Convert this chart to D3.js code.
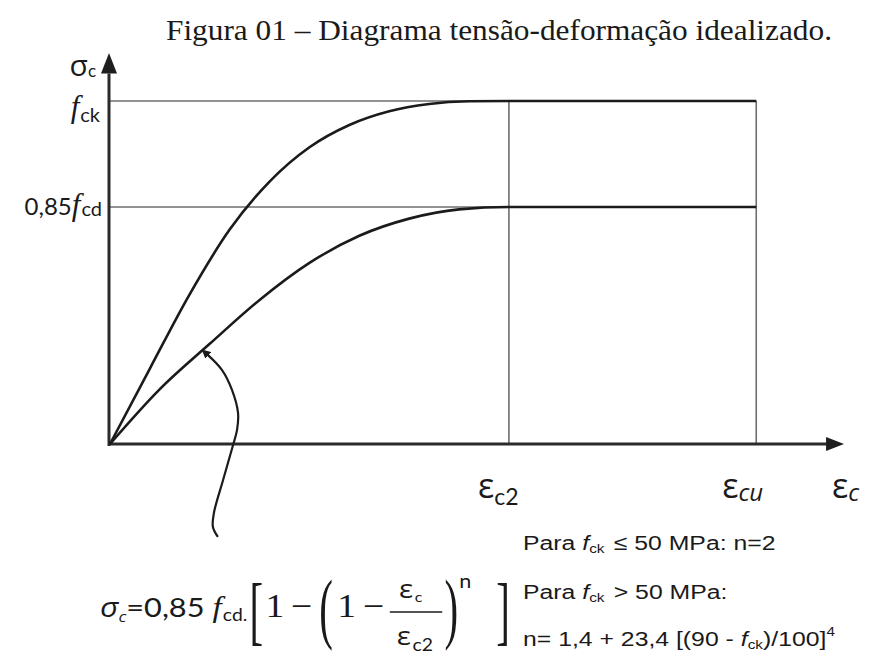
<!DOCTYPE html>
<html>
<head>
<meta charset="utf-8">
<script src="https://cdn.jsdelivr.net/npm/d3@7"></script>
<style>
  body { margin: 0; background: #fff; }
  svg text { fill: #1a1a1a; white-space: pre; }
</style>
</head>
<body>
<svg id="chart" width="869" height="657"></svg>
<script>
// Idealised stress-strain diagram of concrete (strain in ‰, stress relative to fck)
const epsC2 = 2.0;
const epsCu = 3.24;
const stressFck = 1.0;
const stressFcd = 0.691;   // 0,85 fcd level

const upperStrain = [0, 0.2, 0.4, 0.6, 0.8, 1.0, 1.2, 1.4, 1.6, 1.8, 2.0, 3.24];
const upperStress = [0, 0.220, 0.437, 0.625, 0.765, 0.865, 0.930, 0.970, 0.991, 0.999, 1.0, 1.0];

const lowerStrain = [0, 0.25, 0.5, 0.75, 1.0, 1.25, 1.5, 1.75, 2.0, 3.24];
const lowerStress = [0, 0.160, 0.292, 0.420, 0.528, 0.607, 0.657, 0.684, 0.691, 0.691];

// pointer from the formula to the lower curve
const pointerStrain = [0.486, 0.561, 0.612, 0.642, 0.637, 0.617, 0.567, 0.521, 0.516, 0.541];
const pointerStress = [0.262, 0.216, 0.157, 0.090, 0.041, -0.003, -0.105, -0.201, -0.242, -0.271];

const titleText = "Figura 01 – Diagrama tensão-deformação idealizado.";
const sansLatin = "Lato, 'Open Sans', sans-serif";
const sansGreek = "'Open Sans', 'Noto Sans', sans-serif";
const serif = "'Liberation Serif', 'Times New Roman', serif";
const arial = "'Liberation Sans', Arial, sans-serif";

const svg = d3.select("#chart");
const x = d3.scaleLinear().domain([0, 3.67]).range([110, 842]);
const y = d3.scaleLinear().domain([0, 1.134]).range([444, 55]);

// title
svg.append("text")
  .attr("x", 166).attr("y", 40)
  .attr("textLength", 666).attr("lengthAdjust", "spacingAndGlyphs")
  .style("font-family", serif).style("font-size", "30px")
  .text(titleText);

// reference lines
const guide = svg.append("g").attr("stroke", "#6e6e6e").attr("stroke-width", 1.6).attr("fill", "none");
[stressFck, stressFcd].forEach(s => {
  guide.append("line").attr("x1", x(0)).attr("x2", x(epsCu)).attr("y1", y(s)).attr("y2", y(s));
});
[epsC2, epsCu].forEach(e => {
  guide.append("line").attr("x1", x(e)).attr("x2", x(e)).attr("y1", y(0)).attr("y2", y(stressFck));
});

// axes with arrow heads
const axisG = svg.append("g");
axisG.append("line").attr("x1", x(0) - 1).attr("x2", x(0) - 1)
  .attr("y1", y(0) + 2).attr("y2", y(1.08))
  .attr("stroke", "#2b2b2b").attr("stroke-width", 3);
axisG.append("line").attr("x1", x(0) - 2).attr("x2", x(3.6))
  .attr("y1", y(0)).attr("y2", y(0))
  .attr("stroke", "#2b2b2b").attr("stroke-width", 3);
axisG.append("path")
  .attr("d", `M${x(0) - 1},${y(1.134) - 2} L${x(0) - 9},${y(1.08)} L${x(0) + 7},${y(1.08)} Z`)
  .attr("fill", "#1e1e1e");
axisG.append("path")
  .attr("d", `M${x(3.67) + 2},${y(0)} L${x(3.59)},${y(0) - 7} L${x(3.59)},${y(0) + 7} Z`)
  .attr("fill", "#1e1e1e");

// curves: smooth rise, flat plateau
const line = d3.line().x(d => x(d[0])).y(d => y(d[1])).curve(d3.curveMonotoneX);
const curveG = svg.append("g").attr("fill", "none").attr("stroke", "#1b1b1b").attr("stroke-width", 2.6);
curveG.append("path").attr("d", line(d3.zip(upperStrain, upperStress)));
curveG.append("path").attr("d", line(d3.zip(lowerStrain, lowerStress)));

// pointer arrow
svg.append("defs").append("marker")
  .attr("id", "tip").attr("viewBox", "0 0 10 10").attr("refX", 2).attr("refY", 5)
  .attr("markerWidth", 4).attr("markerHeight", 4).attr("orient", "auto-start-reverse")
  .append("path").attr("d", "M0,0 L10,5 L0,10 Z").attr("fill", "#1b1b1b");
const pointerLine = d3.line().x(d => x(d[0])).y(d => y(d[1])).curve(d3.curveCatmullRom);
svg.append("path")
  .attr("d", pointerLine(d3.zip(pointerStrain, pointerStress)))
  .attr("fill", "none").attr("stroke", "#1b1b1b").attr("stroke-width", 2.2)
  .attr("marker-start", "url(#tip)");

// helper: lays out text pieces one after another on a shared baseline
function textRow(g, pieces, x0, base, anchor) {
  const row = g.append("g");
  let cx = 0;
  pieces.forEach(p => {
    const t = row.append("text")
      .attr("x", cx + (p.dx || 0)).attr("y", base + (p.dy || 0))
      .style("font-family", p.font).style("font-size", p.size + "px")
      .style("font-style", p.italic ? "italic" : "normal")
      .text(p.t);
    cx += t.node().getComputedTextLength() + (p.dx || 0) + (p.after || 0);
  });
  const shift = anchor === "end" ? x0 - cx : x0;
  row.attr("transform", `translate(${shift},0)`);
  return { row, width: cx };
}

// y labels
textRow(svg, [
  { t: "σ", font: sansGreek, size: 30 },
  { t: "c", font: sansLatin, size: 17, dy: 1 }
], 96, 76, "end");
textRow(svg, [
  { t: "f", font: serif, size: 31, italic: true, after: 1 },
  { t: "ck", font: sansLatin, size: 20, dy: 5 }
], 100, 117, "end");
textRow(svg, [
  { t: "0,85", font: sansLatin, size: 24 },
  { t: "f", font: serif, size: 31, italic: true, after: 1 },
  { t: "cd", font: sansLatin, size: 20, dy: 1 }
], 102, 215, "end");

// x labels
textRow(svg, [
  { t: "ε", font: sansGreek, size: 34 },
  { t: "c2", font: sansLatin, size: 23, dy: 7 }
], x(epsC2) - 31, 498);
textRow(svg, [
  { t: "ε", font: sansGreek, size: 34 },
  { t: "cu", font: sansGreek, size: 24, italic: true, dy: 3 }
], x(epsCu) - 34, 498);
textRow(svg, [
  { t: "ε", font: sansGreek, size: 34 },
  { t: "c", font: sansGreek, size: 24, italic: true, dy: 3 }
], 832, 498);

// formula for the lower curve
const fg = svg.append("g");
const base = 617;
let cx = 100;
function put(t, font, size, opts = {}) {
  const el = fg.append("text")
    .attr("x", cx + (opts.dx || 0)).attr("y", base + (opts.dy || 0))
    .style("font-family", font).style("font-size", size + "px")
    .style("font-style", opts.italic ? "italic" : "normal").text(t);
  const w = el.node().getComputedTextLength();
  cx += w + (opts.dx || 0) + (opts.after || 0);
  return w;
}
function stretch(ch, size, sy, cy, after) {
  const el = fg.append("text")
    .attr("transform", `translate(${cx},${cy}) scale(1,${sy})`)
    .attr("y", size * 0.27)
    .style("font-family", serif).style("font-size", size + "px").text(ch);
  cx += el.node().getComputedTextLength() + (after || 0);
}
put("σ", sansGreek, 28, { italic: true });
put("c", sansGreek, 15, { italic: true, dy: 5 });
put("=0,85", sansLatin, 27, { after: 7 });
put("f", serif, 29, { italic: true, after: 1 });
put("cd.", sansLatin, 17, { dy: 4, after: 2 });
stretch("[", 36, 2.1, 616, 2);
put("1", serif, 33, { after: 6 });
put("−", serif, 33, { after: 6 });
stretch("(", 36, 2.2, 613, 4);
put("1", serif, 33, { after: 6 });
put("−", serif, 33, { after: 5 });
// fraction εc / εc2
const fracX = cx;
const fracW = 46;
fg.append("text").attr("x", fracX + 8).attr("y", 598).style("font-family", sansGreek).style("font-size", "26px").text("ε");
fg.append("text").attr("x", fracX + 22).attr("y", 602).style("font-family", sansLatin).style("font-size", "14px").text("c");
fg.append("text").attr("x", fracX + 6).attr("y", 645).style("font-family", sansGreek).style("font-size", "26px").text("ε");
fg.append("text").attr("x", fracX + 20).attr("y", 651).style("font-family", sansLatin).style("font-size", "17px").text("c2");
fg.append("line").attr("x1", fracX).attr("x2", fracX + fracW).attr("y1", 612).attr("y2", 612)
  .attr("stroke", "#1a1a1a").attr("stroke-width", 1.6);
cx = fracX + fracW + 2;
stretch(")", 36, 2.2, 613, 1);
put("n", sansLatin, 19, { dy: -29, after: 22 });
stretch("]", 36, 2.1, 616, 0);
// widen the formula to its printed extent
const formulaW = cx - 100;
const fScale = 410 / formulaW;
fg.attr("transform", `translate(100,0) scale(${fScale},1) translate(-100,0)`);

// case notes for the exponent n
const notes = svg.append("g");
textRow(notes, [
  { t: "Para ", font: arial, size: 21 },
  { t: "f", font: arial, size: 21, italic: true },
  { t: "ck", font: arial, size: 13, dy: 3, after: 2 },
  { t: " ≤ 50 MPa: n=2", font: arial, size: 21 }
], 0, 550);
textRow(notes, [
  { t: "Para ", font: arial, size: 21 },
  { t: "f", font: arial, size: 21, italic: true },
  { t: "ck", font: arial, size: 13, dy: 3, after: 2 },
  { t: " > 50 MPa:", font: arial, size: 21 }
], 0, 599);
const n3 = textRow(notes, [
  { t: "n= 1,4 + 23,4 [(90 - ", font: arial, size: 21 },
  { t: "f", font: arial, size: 21, italic: true },
  { t: "ck", font: arial, size: 13, dy: 3 },
  { t: ")/100]", font: arial, size: 21 },
  { t: "4", font: arial, size: 13, dy: -10 }
], 0, 646);
const nScale = 312 / n3.width;
notes.attr("transform", `translate(523,0) scale(${nScale},1)`);
</script>
</body>
</html>
